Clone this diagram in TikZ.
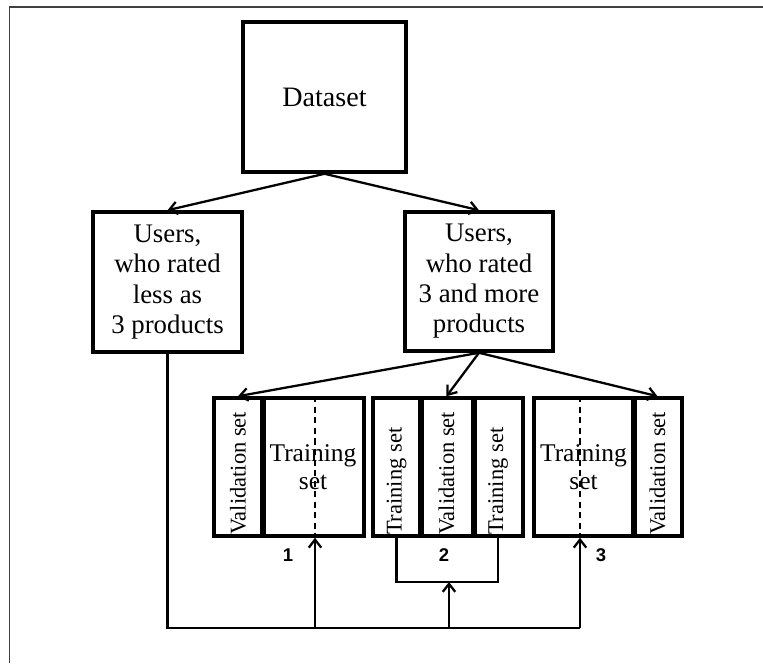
\documentclass[tikz,border=0pt]{standalone}
\usepackage{fontspec}
\setmainfont{Liberation Serif}
\newfontfamily\digitfont{Liberation Sans}
\usetikzlibrary{arrows.meta}

\begin{document}
\begin{tikzpicture}[x=0.04cm,y=-0.04cm,
    boxstyle/.style={draw,line width=4pt,align=center,inner sep=0pt,font=\fontsize{30.5}{34.5}\selectfont},
    colstyle/.style={draw,line width=4pt,minimum height=5.52cm,inner sep=0pt},
    vlabel/.style={rotate=90,anchor=west,inner sep=3pt,font=\fontsize{25.6}{28}\selectfont},
    hlabel/.style={align=center,inner sep=0pt,font=\fontsize{29}{32}\selectfont},
    numlabel/.style={font=\digitfont\bfseries\fontsize{21}{21}\selectfont},
    arrowline/.style={line width=2.6pt,-{Straight Barb[length=0.32cm,width=0.5cm]}},
    plainline/.style={line width=2.6pt}]
    % Colours
    \colorlet{framecolor}{black!75}

    % Page and frame
    \useasboundingbox (0,0) rectangle (763,663);
    \draw[framecolor,line width=1.5pt] (9.5,663) |- (763,7);

    % Dataset and the two groups of users
    \node[boxstyle,minimum width=6.52cm,minimum height=6cm,font=\fontsize{32}{36}\selectfont] (data) at (324.5,97) {Dataset};
    \node[boxstyle,minimum width=5.96cm,minimum height=5.6cm] (less) at (167.5,282) {Users,\\who rated\\less as\\3 products};
    \node[boxstyle,minimum width=5.92cm,minimum height=5.56cm] (more) at (479,281.5) {Users,\\who rated\\3 and more\\products};

    \draw[arrowline] (data.south) -- (less.north);
    \draw[arrowline] (data.south) -- (more.north);

    % Split 1
    \node[colstyle,minimum width=1.92cm] (b1a) at (238,467) {};
    \node[colstyle,minimum width=4.08cm] (b1b) at (313,467) {};
    \node[vlabel] (v1) at (b1a.south) {Validation set};
    \node[hlabel] (t1) at (b1b) {Training\\set};
    \node[numlabel] (n1) at (288,555) {1};

    % Split 2
    \node[colstyle,minimum width=1.88cm] (b2a) at (396.5,467) {};
    \node[colstyle,minimum width=2.12cm] (b2b) at (446.5,467) {};
    \node[colstyle,minimum width=2cm] (b2c) at (498,467) {};
    \node[vlabel] (t2a) at (b2a.south) {Training set};
    \node[vlabel] (v2) at (b2b.south) {Validation set};
    \node[vlabel] (t2c) at (b2c.south) {Training set};
    \node[numlabel] (n2) at (444,555) {2};

    % Split 3
    \node[colstyle,minimum width=3.96cm] (b3a) at (583.5,467) {};
    \node[colstyle,minimum width=1.96cm] (b3b) at (657.5,467) {};
    \node[hlabel] (t3) at (b3a) {Training\\set};
    \node[vlabel] (v3) at (b3b.south) {Validation set};
    \node[numlabel] (n3) at (601,555) {3};

    % Thick dividers
    \foreach \col in {b1a,b2a,b2b,b3a}
        \draw[line width=5.2pt] (\col.north east) -- (\col.south east);

    \draw[arrowline] (more.south) -- (b1a.north);
    \draw[arrowline] (more.south) -- (b2b.north);
    \draw[arrowline] (more.south) -- (b3b.north);

    % Feedback of the small users
    \coordinate (base) at (0,628);
    \coordinate (in1) at (315,628);
    \coordinate (brk) at (449,582);
    \coordinate (in3) at (580,628);

    \draw[dash pattern=on 7pt off 5pt,line width=1.2pt] (in1 |- b1b.north) -- (in1 |- b1b.south);
    \draw[dash pattern=on 7pt off 5pt,line width=1.2pt] (in3 |- b3a.north) -- (in3 |- b3a.south);

    \draw[plainline] (b2a.south) |- (brk) -| (b2c.south);
    \draw[plainline] (less.south) |- (in3);
    \draw[arrowline] (in1) -- (in1 |- b1b.south);
    \draw[arrowline] (brk |- base) -- (brk);
    \draw[arrowline] (in3) -- (in3 |- b3a.south);

\end{tikzpicture}
\end{document}
